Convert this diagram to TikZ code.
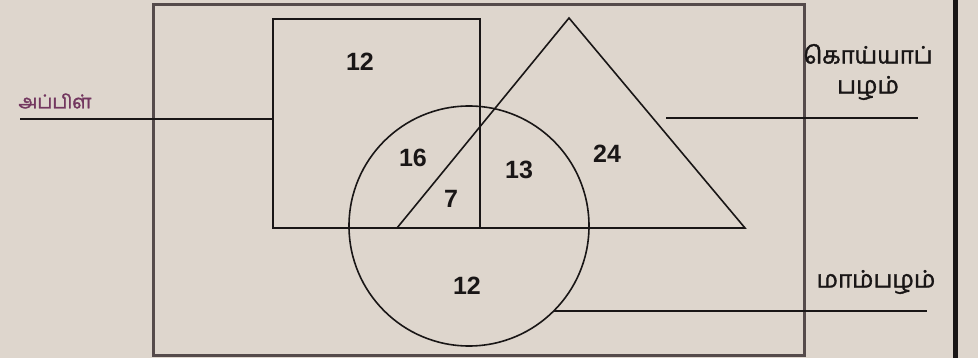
\documentclass[tikz,border=0pt]{standalone}
\usepackage{fontspec}
\setmainfont{Liberation Sans}
\newfontfamily\tamil[Script=Tamil,AutoFakeBold=1.5]{Hind Madurai}
\definecolor{paper}{RGB}{222,214,205}
\definecolor{frame}{RGB}{85,75,75}
\definecolor{ink}{RGB}{25,22,22}
\definecolor{tlabel}{RGB}{115,55,95}
\begin{document}
\begin{tikzpicture}[x=1pt,y=-1pt,
  shape line/.style={draw=ink,line width=1.6pt},
  num/.style={font=\fontsize{25}{25}\selectfont\bfseries,text=ink,inner sep=0pt},
  tlab/.style={font=\tamil\bfseries\fontsize{24}{30}\selectfont,text=ink,inner sep=0pt,align=center},
  leader/.style={draw=ink,line width=1.6pt}]
\fill[paper] (0,0) rectangle (978,358);
\useasboundingbox (0,0) rectangle (978,358);
% outer frame
\draw[frame,line width=3pt] (153,5) rectangle (804,355);
\draw[ink,line width=5pt] (955,0) -- (955,358);
% shapes
\draw[shape line] (273,228) rectangle (480,19);
\coordinate (apex) at (569,18);
\coordinate (bl) at (397,228);
\coordinate (br) at (745,228);
\draw[shape line] (bl) -- (apex) -- (br) -- (bl);
\draw[shape line] (469,226) circle (120);
% numbers
\node[num] (n1) at (360,62) {12};
\node[num] (n2) at (413,158) {16};
\node[num] (n3) at (451,199) {7};
\node[num] (n4) at (519,170) {13};
\node[num] (n5) at (607,154) {24};
\node[num] (n6) at (467,286) {12};
% labels
\node[tlab,text=tlabel,font=\tamil\bfseries\fontsize{19}{24}\selectfont] (apple) at (55,101) {அப்பிள்};
\node[tlab] (guava) at (868,72) {கொய்யாப்\\பழம்};
\node[tlab] (mango) at (876,282) {மாம்பழம்};
% leader lines
\coordinate (a1) at (20,119);
\coordinate (a2) at (273,119);
\coordinate (g1) at (666,118);
\coordinate (g2) at (918,118);
\coordinate (m1) at (554,311);
\coordinate (m2) at (927,311);
\draw[leader] (a1) -- (a2);
\draw[leader] (g1) -- (g2);
\draw[leader] (m1) -- (m2);
\end{tikzpicture}
\end{document}
